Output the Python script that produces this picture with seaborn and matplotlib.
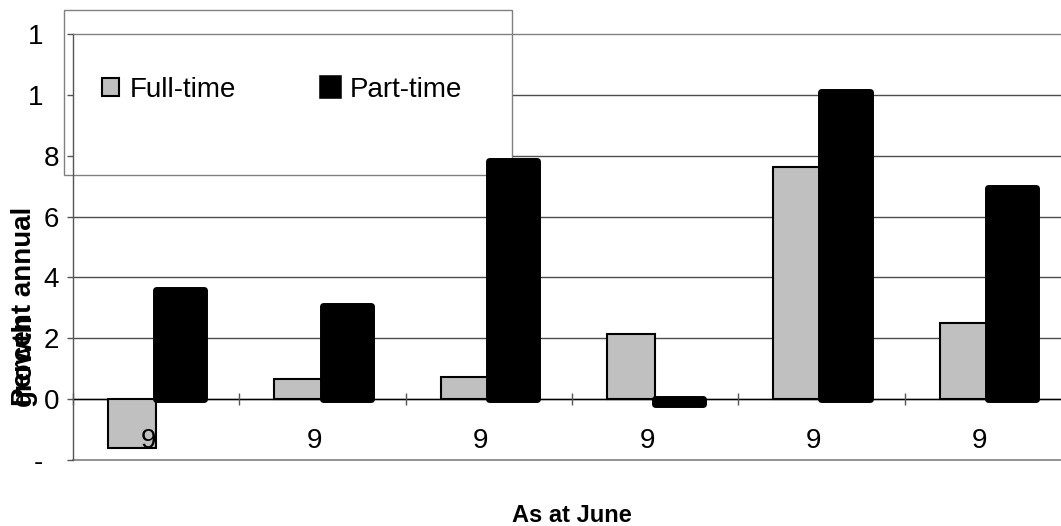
import pandas as pd
import matplotlib
matplotlib.use("Agg")
import matplotlib.pyplot as plt
import seaborn as sns
from matplotlib.patches import Patch, Rectangle

# data
periods = [1, 2, 3, 4, 5, 6]
period_labels = ["9\u2007"] * 6          # labels are cut off after the first digit
full_time = [-1.6, 0.65, 0.73, 2.13, 7.64, 2.49]
part_time = [3.6, 3.07, 7.82, -0.15, 10.1, 6.93]
series = ["Full-time", "Part-time"]
colors = {"Full-time": "#C0C0C0", "Part-time": "black"}
y_ticks = [-2, 0, 2, 4, 6, 8, 10, 12]
y_tick_labels = ["-\u2007", "0", "2", "4", "6", "8", "1\u2007", "1\u2007"]

df = pd.DataFrame({
    "period": periods * 2,
    "growth": full_time + part_time,
    "type": ["Full-time"] * 6 + ["Part-time"] * 6,
})

plt.rcParams["font.family"] = ["Liberation Sans", "DejaVu Sans"]

fig = plt.figure(figsize=(10.61, 5.26), dpi=100)
ax = fig.add_axes([73 / 1061, 66 / 526, 998 / 1061, 426 / 526])

sns.barplot(data=df, x="period", y="growth", hue="type", hue_order=series,
            palette=colors, width=0.58, edgecolor="black", linewidth=1.5,
            legend=False, zorder=3, ax=ax)

# part-time bars have a heavy rounded outline
for bar in ax.containers[1]:
    bar.set_linewidth(5)
    bar.set_joinstyle("round")

ax.set_xlim(-0.5, 5.5)
ax.set_ylim(-2, 12)

# gridlines under the legend box
for y in y_ticks[1:-1]:
    ax.axhline(y, color="#4d4d4d", lw=1, zorder=0.5)
ax.axhline(-2, color="#808080", lw=1.2, zorder=2.5, clip_on=False)

ax.spines["right"].set_visible(False)
ax.spines["top"].set_color("#808080")
ax.spines["left"].set_color("#555555")
ax.spines["bottom"].set_position(("data", 0))
ax.spines["bottom"].set_color("black")
for s in ax.spines.values():
    s.set_linewidth(1)

ax.set_yticks(y_ticks)
ax.set_yticklabels(y_tick_labels)
ax.tick_params(axis="y", length=4, width=1, color="#555555", pad=6, labelsize=20)

ax.set_xticks(range(len(periods)))
ax.set_xticklabels(period_labels)
ax.set_xticks([i - 0.5 for i in range(len(periods) + 1)], minor=True)
ax.tick_params(axis="x", which="major", length=0, pad=21, labelsize=20)
ax.tick_params(axis="x", which="minor", direction="inout", length=9, width=1, color="#555555")
ax.xaxis.set_zorder(4)
ax.yaxis.set_zorder(4)

ax.set_xlabel("As at June", fontsize=17, fontweight="bold", labelpad=36)
ax.set_ylabel("")
fig.text(24 / 1061, 1 - 406 / 526, "Percent annual", rotation=90, ha="center",
         va="bottom", fontsize=20, fontweight="bold")
fig.text(24 / 1061, 1 - 406 / 526, "growth", rotation=90, ha="center",
         va="bottom", fontsize=20, fontweight="bold")

# legend box
box = Rectangle((64 / 1061, 1 - 175 / 526), 448 / 1061, 165 / 526,
                transform=fig.transFigure, facecolor="white", edgecolor="#808080",
                lw=1, zorder=1.5, clip_on=False)
ax.add_artist(box)
handles = [
    Patch(facecolor=colors["Full-time"], edgecolor="black", lw=1.5, label="Full-time"),
    Patch(facecolor="black", edgecolor="black", lw=4, joinstyle="round", label="Part-time"),
]
leg = ax.legend(handles=handles, ncol=2, frameon=False, loc="center left",
                bbox_to_anchor=(102 / 1061, 1 - 90 / 526), bbox_transform=fig.transFigure,
                borderpad=0, borderaxespad=0, handlelength=0.6, handleheight=0.6,
                handletextpad=0.4, columnspacing=3.1, fontsize=20)
leg.set_zorder(1.6)

fig.savefig("out.png", dpi=100)
